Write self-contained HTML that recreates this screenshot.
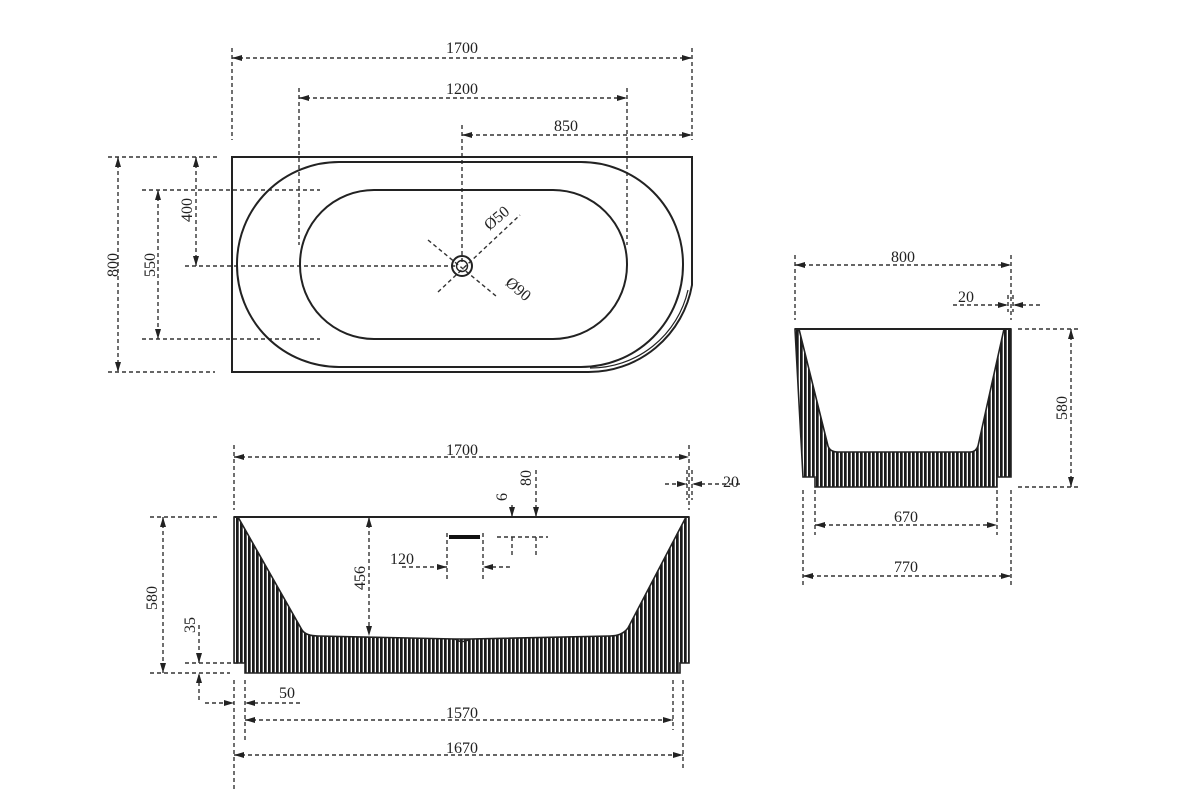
<!DOCTYPE html>
<html><head><meta charset="utf-8"><style>
html,body{margin:0;padding:0;background:#fff;}
svg{display:block;}
text{font-family:"Liberation Serif",serif;font-size:16px;fill:#222;}
</style></head><body>
<svg width="1200" height="800" viewBox="0 0 1200 800" xmlns="http://www.w3.org/2000/svg">
<defs>
<pattern id="h" width="4" height="10" patternUnits="userSpaceOnUse">
<rect width="4" height="10" fill="#fff"/><rect width="2.7" height="10" fill="#1a1a1a"/>
</pattern>
<marker id="a" viewBox="0 0 10 6" refX="10" refY="3" markerWidth="10" markerHeight="6" orient="auto-start-reverse" markerUnits="userSpaceOnUse">
<path d="M0,0 L10,3 L0,6 Z" fill="#222"/></marker>
</defs>

<g stroke="#333" stroke-width="1.4" stroke-dasharray="4 3" fill="none">
<path d="M232 48V140 M692 48V140 M299 88V245 M627 88V245 M462 125V265"/>
<path d="M108 157H220 M108 372H215 M142 190H320 M142 339H320 M185 266H455"/>
<path d="M428 240L496 296 M438 292L520 215" />
<path d="M234 445V510 M689 445V510 M687 470V500 M692 470V500 M150 517H218 M150 673H230 M185 663H240 M234 680V790 M245 680V740 M673 680V730 M683 680V770 M447 533V580 M483 533V580 M497 537H548"/>
<path d="M795 255V320 M1011 255V320 M1008 295V312 M1013 295V312 M1018 329H1080 M1018 487H1080 M815 490V535 M997 490V535 M803 490V585 M1011 490V585"/>
</g>

<g stroke="#333" stroke-width="1.4" stroke-dasharray="4 3" fill="none" marker-start="url(#a)" marker-end="url(#a)">
<path d="M232 58H692"/><path d="M299 98H627"/><path d="M462 135H692"/>
<path d="M118 157V372"/><path d="M158 190V339"/><path d="M196 157V266"/>
<path d="M234 457H689"/><path d="M369 517V636"/><path d="M163 517V673"/>
<path d="M245 720H673"/><path d="M234 755H683"/>
<path d="M795 265H1011"/><path d="M1071 329V487"/><path d="M815 525H997"/><path d="M803 576H1011"/>
</g>
<g stroke="#333" stroke-width="1.4" stroke-dasharray="4 3" fill="none">
<path d="M665 484H687" marker-end="url(#a)"/><path d="M740 484H692" marker-end="url(#a)"/>
<path d="M536 470V517" marker-end="url(#a)"/><path d="M536 555V537" />
<path d="M512 505V517" marker-end="url(#a)"/><path d="M512 555V537"/>
<path d="M402 567H447" marker-end="url(#a)"/><path d="M510 567H483" marker-end="url(#a)"/>
<path d="M199 625V663" marker-end="url(#a)"/><path d="M199 700V673" marker-end="url(#a)"/>
<path d="M205 703H234" marker-end="url(#a)"/><path d="M300 703H245" marker-end="url(#a)"/>
<path d="M953 305H1008" marker-end="url(#a)"/><path d="M1040 305H1013" marker-end="url(#a)"/>
</g>

<g stroke="#222" stroke-width="2" fill="none">
<path d="M232 157H692V285A105 105 0 0 1 587 372H232Z"/>
<path d="M688 290A100 100 0 0 1 590 368" stroke-width="1.2"/>
<rect x="237" y="162" width="446" height="205" rx="102" ry="102"/>
<rect x="300" y="190" width="327" height="149" rx="74" ry="74"/>
<circle cx="462" cy="266" r="10"/><circle cx="462" cy="266" r="5.5" stroke-width="1.4"/>
</g>

<path d="M234 517H238L302 630Q306 636 318 636L455 639L470 639L610 636Q622 636 628 628L686 517H689V663H680V673H245V663H234Z" fill="url(#h)" stroke="#222" stroke-width="1.6"/>
<path d="M234 517H689" stroke="#222" stroke-width="2"/>
<path d="M455 639Q462 644 470 639" stroke="#222" stroke-width="1.5" fill="none"/>
<rect x="449" y="535" width="31" height="4" fill="#111"/>

<path d="M795 329H799L828 446Q830 452 838 452H970Q976 452 978 446L1004 329H1011V477H997V487H815V477H803Z" fill="url(#h)" stroke="#222" stroke-width="1.6"/>
<path d="M795 329H1011" stroke="#222" stroke-width="2"/>

<g text-anchor="middle">
<text x="462" y="53">1700</text>
<text x="462" y="94">1200</text>
<text x="566" y="131">850</text>
<text x="462" y="455">1700</text>
<text x="462" y="718">1570</text>
<text x="462" y="753">1670</text>
<text x="402" y="564">120</text>
<text x="287" y="698">50</text>
<text x="731" y="487">20</text>
<text x="903" y="262">800</text>
<text x="966" y="302">20</text>
<text x="906" y="522">670</text>
<text x="906" y="572">770</text>
<text transform="translate(118,265) rotate(-90)">800</text>
<text transform="translate(155,265) rotate(-90)">550</text>
<text transform="translate(192,210) rotate(-90)">400</text>
<text transform="translate(157,598) rotate(-90)">580</text>
<text transform="translate(195,625) rotate(-90)">35</text>
<text transform="translate(365,578) rotate(-90)">456</text>
<text transform="translate(531,478) rotate(-90)">80</text>
<text transform="translate(507,497) rotate(-90)">6</text>
<text transform="translate(1067,408) rotate(-90)">580</text>
<text transform="translate(500,222) rotate(-40)">Ø50</text>
<text transform="translate(515,293) rotate(40)">Ø90</text>
</g>
</svg>
</body></html>
